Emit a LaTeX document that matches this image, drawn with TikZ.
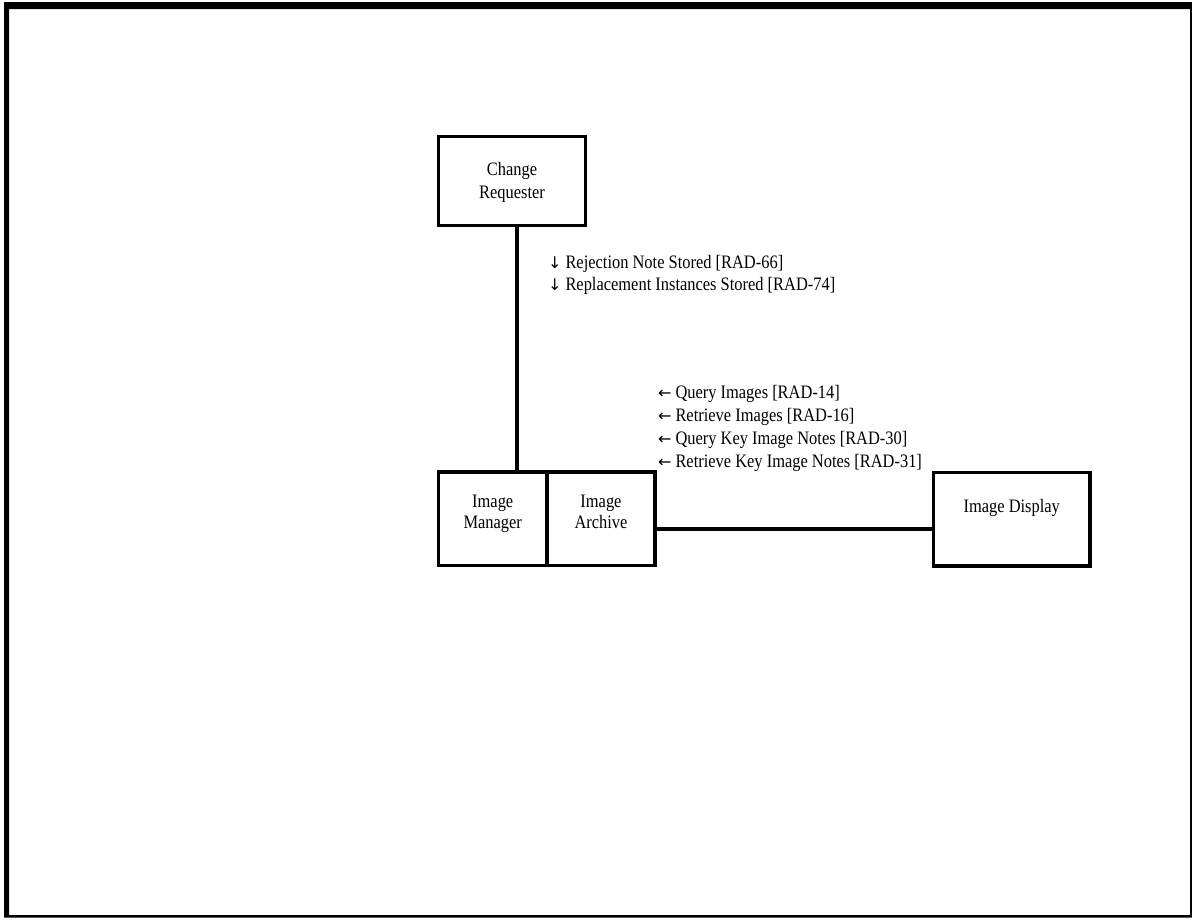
\documentclass[tikz,border=0pt]{standalone}
\usepackage{fontspec}
\setmainfont{Liberation Serif}[FakeStretch=0.865]
\newfontfamily\arrowfont{DejaVu Sans}
\newcommand{\dar}{{\arrowfont\fontsize{16}{16}\selectfont ↓}}
\newcommand{\lar}{{\arrowfont\fontsize{16}{16}\selectfont ←}}
\begin{document}
\begin{tikzpicture}[x=1pt,y=-1pt,
  box/.style={draw, line width=3.5pt, inner sep=0pt, outer sep=0pt, anchor=north west},
  conn/.style={line width=4pt},
  txt/.style={font=\fontsize{19}{22}\selectfont, inner sep=0pt, outer sep=0pt},
  boxtxt/.style={txt, align=center, anchor=base},
  lbl/.style={txt, align=left, anchor=base west}]
\useasboundingbox (0,0) rectangle (1192,919);
% outer frame
\fill[black, even odd rule] (4,2) rectangle (1192,917.5) (9,9) rectangle (1190,915);
% boxes
\node[box, minimum width=147pt, minimum height=89pt] (cr) at (438.5,136.5) {};
\node[box, minimum width=108.5pt, minimum height=93.5pt] (im) at (438.5,472) {};
\node[box, minimum width=108pt, minimum height=93.5pt] (ia) at (547,472) {};
\node[box, minimum width=156.5pt, minimum height=93.5pt] (id) at (933.5,472.5) {};
% box texts
\node[boxtxt, font=\fontsize{19}{23}\selectfont] (crt) at (512,198) {Change\\Requester};
\node[boxtxt, font=\fontsize{19}{21}\selectfont] (imt) at (492.75,528) {Image\\Manager};
\node[boxtxt, font=\fontsize{19}{21}\selectfont] (iat) at (601,528) {Image\\Archive};
\node[boxtxt] (idt) at (1011.75,512) {Image Display};
% connectors
\coordinate (v) at (516.5,0);
\coordinate (h) at (0,529);
\draw[conn] (cr.south -| v) -- (im.north -| v);
\draw[conn] (ia.east |- h) -- (id.west |- h);
% labels
\node[lbl] (l1) at (548,290) {\dar\ Rejection Note Stored [RAD-66]\\\dar\ Replacement Instances Stored [RAD-74]};
\node[lbl, font=\fontsize{19}{23}\selectfont] (l2) at (658,467) {\lar\ Query Images [RAD-14]\\\lar\ Retrieve Images [RAD-16]\\\lar\ Query Key Image Notes [RAD-30]\\\lar\ Retrieve Key Image Notes [RAD-31]};
\end{tikzpicture}
\end{document}
